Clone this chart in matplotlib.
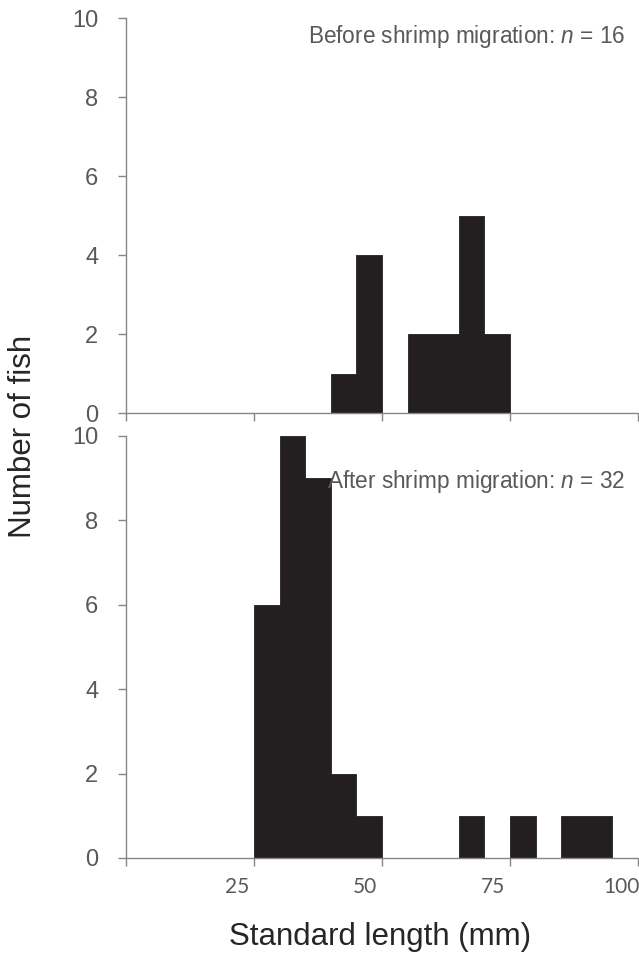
import matplotlib
matplotlib.use("Agg")
import matplotlib.pyplot as plt
import numpy as np

# 5 mm length bins, 0-100 mm
bin_edges = list(range(0, 100, 5))
before_counts = [0, 0, 0, 0, 0, 0, 0, 0, 1, 4, 0, 2, 2, 5, 2, 0, 0, 0, 0, 0]
after_counts = [0, 0, 0, 0, 0, 6, 10, 9, 2, 1, 0, 0, 0, 1, 0, 1, 0, 1, 1, 0]
before_label = "Before shrimp migration: $\\it{n}$ = 16"
after_label = "After shrimp migration: $\\it{n}$ = 32"
x_ticks = [0, 25, 50, 75, 100]
x_labels = ["25", "50", "75", "100"]
y_ticks = [0, 2, 4, 6, 8, 10]

plt.rcParams['font.family'] = ['Liberation Sans', 'DejaVu Sans']
plt.rcParams['mathtext.fontset'] = 'custom'
plt.rcParams['mathtext.it'] = 'Liberation Sans:italic'
plt.rcParams['mathtext.rm'] = 'Liberation Sans'

bar_col = '#231f20'
axis_col = '#868686'
text_col = '#595959'

fig = plt.figure(figsize=(6.39, 9.55), dpi=100)
ax1 = fig.add_axes([0.1972, 0.5675, 0.8013, 0.4136])
ax2 = fig.add_axes([0.1972, 0.1016, 0.8013, 0.4419])

for ax, counts, label, ty in [(ax1, before_counts, before_label, 0.954),
                              (ax2, after_counts, after_label, 0.893)]:
    ax.bar(bin_edges, counts, width=5, align='edge', color=bar_col,
           edgecolor=bar_col, linewidth=0.6)
    ax.set_xlim(0, 100)
    ax.set_ylim(0, 10)
    for s in ['top', 'right']:
        ax.spines[s].set_visible(False)
    for s in ['left', 'bottom']:
        ax.spines[s].set_color(axis_col)
        ax.spines[s].set_linewidth(1.0)
    ax.set_yticks(y_ticks)
    ax.set_yticklabels([str(v) for v in y_ticks])
    ax.set_xticks(x_ticks)
    ax.set_xticklabels([])
    ax.tick_params(axis='both', which='major', direction='out', length=6,
                   width=1.0, color=axis_col, labelcolor=text_col)
    ax.tick_params(axis='y', labelsize=17, pad=14)
    ax.text(0.975, ty, label, transform=ax.transAxes, ha='right', va='center',
            fontsize=16.3, color=text_col)

# x tick labels sit a little left of the tick marks
ax2.set_xticks([t - 3.3 for t in x_ticks[1:]], minor=True)
ax2.set_xticklabels(x_labels, minor=True, fontfamily='Lato')
ax2.tick_params(axis='x', which='minor', length=0, labelsize=15,
                labelcolor=text_col, pad=14)

fig.text(0.036, 0.5435, 'Number of fish', rotation=90, ha='center',
         va='center', fontsize=22.5, color='#262626')
fig.text(0.595, 0.019, 'Standard length (mm)', ha='center', va='center',
         fontsize=22.5, color='#262626')

fig.savefig('out.png', dpi=100)
